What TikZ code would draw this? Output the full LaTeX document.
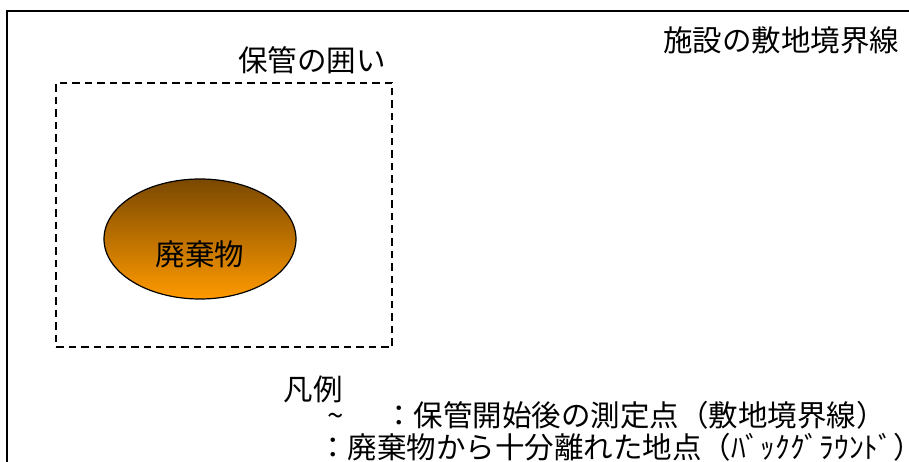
\documentclass[tikz,border=0pt]{standalone}
\usepackage{fontspec}
\setmainfont{Noto Sans CJK JP}
\usetikzlibrary{shapes.geometric}
\definecolor{wastetop}{HTML}{7A4800}
\definecolor{wastebottom}{HTML}{FF9A00}
\tikzset{txt/.style={inner sep=0pt, font=\fontsize{29.5}{31}\selectfont},
         fence/.style={draw, line width=1.5pt, dash pattern=on 7.5pt off 5pt},
         waste/.style={ellipse, draw, line width=1.2pt,
           top color=wastetop, bottom color=wastebottom,
           minimum width=192pt, minimum height=120pt}}

\begin{document}
\begin{tikzpicture}[x=1pt,y=-1pt]
\useasboundingbox (0,0) rectangle (909,462);
\fill[white] (0,0) rectangle (909,462);
\coordinate (siteNE) at (912,11);
\coordinate (siteNW) at (7,11);
\coordinate (siteSW) at (7,465);
\draw[line width=2pt] (siteNE) -- (siteNW) -- (siteSW);
\node[txt] (site) at (781,40) {施設の敷地境界線};
\node[txt] (fencelabel) at (312,60) {保管の囲い};
\node[fence, minimum width=336pt, minimum height=264pt] (fence) at (224,215) {};
\node[waste] (pile) at (200,239) {};
\node[txt] (pilelabel) at (200,254) {廃棄物};
\node[txt] (legend) at (313,389) {凡例};
\node[txt, anchor=west] (key1) at (384,415) {：保管開始後の測定点（敷地境界線）};
\node[txt, anchor=base] (tilde) at (key1.base -| 336,0) {\textasciitilde};
\node[txt, anchor=west] (key2) at (318,447) {：廃棄物から十分離れた地点（ﾊﾞｯｸｸﾞﾗｳﾝﾄﾞ）};
\end{tikzpicture}
\end{document}
